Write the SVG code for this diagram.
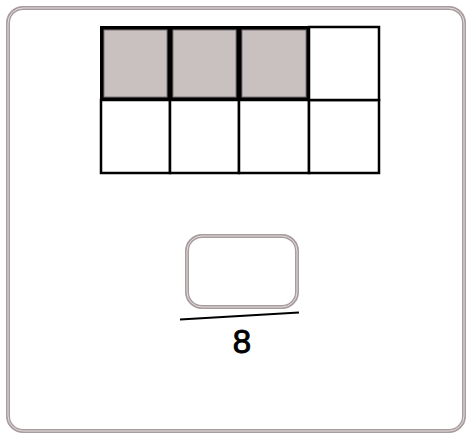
<svg xmlns="http://www.w3.org/2000/svg" width="467" height="434" viewBox="0 0 467 434">
<style>
.frame{fill:none;stroke:#a89c9e;stroke-width:4}
.frame-in{fill:none;stroke:#e4dede;stroke-width:1}
.cell{fill:#ffffff;stroke:#000;stroke-width:2.5}
.shaded{fill:#c9c0c0;stroke:#000;stroke-width:4}
.shaded-in{fill:none;stroke:#7d7576;stroke-width:1}
.lbl{font-family:"Liberation Sans","DejaVu Sans",sans-serif;font-size:33px;fill:#000;stroke:#000;stroke-width:0.9;text-anchor:middle}
</style>
<rect width="467" height="434" fill="#ffffff"/>
<g id="frame">
<rect class="frame" x="8" y="8" width="456" height="423" rx="15"/>
<rect class="frame-in" x="8" y="8" width="456" height="423" rx="15"/>
</g>
<g id="grid">
<rect class="cell" x="101" y="100" width="69" height="73"/>
<rect class="cell" x="170" y="100" width="69" height="73"/>
<rect class="cell" x="239" y="100" width="70" height="73"/>
<rect class="cell" x="309" y="100" width="70" height="73"/>
<rect class="cell" x="309" y="27" width="70" height="73"/>
<rect class="shaded" x="102" y="28" width="67" height="71"/>
<rect class="shaded" x="171" y="28" width="67" height="71"/>
<rect class="shaded" x="240" y="28" width="68" height="71"/>
<rect class="shaded-in" x="104" y="30" width="63" height="67"/>
<rect class="shaded-in" x="173" y="30" width="63" height="67"/>
<rect class="shaded-in" x="242" y="30" width="64" height="67"/>
</g>
<g id="answer-box">
<rect class="frame" x="187" y="236" width="110" height="71" rx="15"/>
<rect class="frame-in" x="187" y="236" width="110" height="71" rx="15"/>
</g>
<g id="connectors">
<line x1="180" y1="319.5" x2="299" y2="312.5" stroke="#000" stroke-width="2"/>
</g>
<g id="denominator">
<text class="lbl" x="242" y="353">8</text>
</g>
</svg>
